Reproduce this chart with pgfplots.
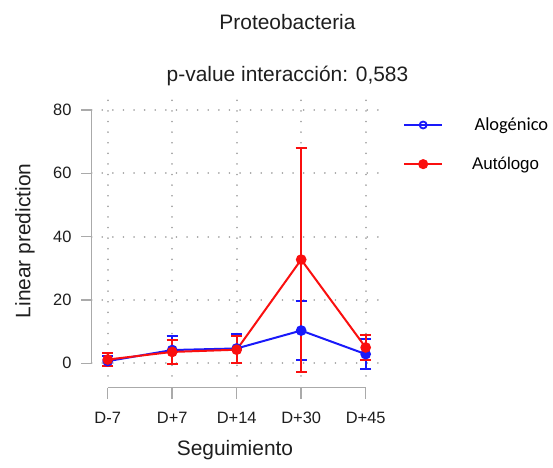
\documentclass[border=0pt]{standalone}
\usepackage{pgfplots}
\pgfplotsset{compat=1.18}
\usepackage{fontspec}
\setmainfont{Liberation Sans}
\newfontfamily\carlito{Carlito}
\definecolor{cblue}{RGB}{25,25,250}
\definecolor{cred}{RGB}{250,15,15}
\definecolor{axgray}{RGB}{170,170,170}
\definecolor{gridgray}{RGB}{165,165,165}
\definecolor{txt}{RGB}{30,30,30}
\begin{document}
\begin{tikzpicture}
\path[use as bounding box] (-91.6bp,-92bp) rectangle (461.4bp,376bp);
\begin{axis}[
  scale only axis, width=290.2bp, height=278.7bp,
  xmin=0.75, xmax=5.25, ymin=-4, ymax=84,
  clip=false,
  axis line style={draw=none}, tick style={draw=none},
  xtick={1,2,3,4,5}, xticklabels={D-7,D+7,D+14,D+30,D+45},
  ytick={0,20,40,60,80},
  grid=major,
  major grid style={draw=gridgray, line width=1.7bp, line cap=round, dash pattern=on 0.1bp off 10.5bp},
  /pgf/number format/assume math mode=true,
  ticklabel style={font=\fontsize{16.5}{18}\selectfont, text=txt},
  xticklabel style={anchor=north, inner sep=0pt, yshift=-35.7bp},
  yticklabel style={anchor=east, inner sep=0pt, xshift=-19.9bp},
  xlabel={Seguimiento},
  xlabel style={at={(axis description cs:0.494,-0.2835)}, anchor=base, font=\fontsize{21}{24}\selectfont, text=txt, inner sep=0pt},
  ylabel={Linear prediction},
  ylabel style={at={(axis description cs:-0.2295,0.485)}, anchor=center, font=\fontsize{21}{24}\selectfont, text=txt, inner sep=0pt},
  legend image code/.code={\draw[mark repeat=2,mark phase=2,#1] plot coordinates {(0bp,0bp) (19bp,0bp) (38bp,0bp)};},
  legend style={draw=none, fill=none, at={(axis description cs:1.073,0.8307)}, anchor=west, inner sep=0pt, nodes={inner sep=0pt}, column sep=29bp, row sep=25bp},
  legend cell align=left,
]
% custom axis lines
\draw[axgray, line width=1.5bp] (axis cs:0.75,0) -- (axis cs:0.75,80);
\draw[axgray, line width=1.5bp] (axis cs:0.75,0) -- ([xshift=-11bp]axis cs:0.75,0);
\draw[axgray, line width=1.5bp] (axis cs:0.75,20) -- ([xshift=-11bp]axis cs:0.75,20);
\draw[axgray, line width=1.5bp] (axis cs:0.75,40) -- ([xshift=-11bp]axis cs:0.75,40);
\draw[axgray, line width=1.5bp] (axis cs:0.75,60) -- ([xshift=-11bp]axis cs:0.75,60);
\draw[axgray, line width=1.5bp] (axis cs:0.75,80) -- ([xshift=-11bp]axis cs:0.75,80);
\draw[axgray, line width=1.5bp] ([yshift=-11.7bp]axis cs:1,-4) -- ([yshift=-11.7bp]axis cs:5,-4);
\draw[axgray, line width=1.5bp] ([yshift=-11.7bp]axis cs:1,-4) -- ([yshift=-22.7bp]axis cs:1,-4);
\draw[axgray, line width=1.5bp] ([yshift=-11.7bp]axis cs:2,-4) -- ([yshift=-22.7bp]axis cs:2,-4);
\draw[axgray, line width=1.5bp] ([yshift=-11.7bp]axis cs:3,-4) -- ([yshift=-22.7bp]axis cs:3,-4);
\draw[axgray, line width=1.5bp] ([yshift=-11.7bp]axis cs:4,-4) -- ([yshift=-22.7bp]axis cs:4,-4);
\draw[axgray, line width=1.5bp] ([yshift=-11.7bp]axis cs:5,-4) -- ([yshift=-22.7bp]axis cs:5,-4);

\addplot[forget plot, cblue, line width=2bp, mark=*, mark size=4.3bp,
  mark options={fill=cblue, draw=cblue},
  error bars/.cd, y dir=both, y explicit,
  error bar style={line width=2bp, cblue},
  error mark options={rotate=90, mark size=5.5bp, line width=2bp, cblue}]
  coordinates {(1,0.7) +- (0,1.5) (2,4.2) +- (0,4.4) (3,4.7) +- (0,4.5) (4,10.35) +- (0,9.35) (5,2.9) +- (0,4.8)};
\addplot[forget plot, cred, line width=2bp, mark=*, mark size=4.3bp,
  mark options={fill=cred, draw=cred},
  error bars/.cd, y dir=both, y explicit,
  error bar style={line width=2bp, cred},
  error mark options={rotate=90, mark size=5.5bp, line width=2bp, cred}]
  coordinates {(1,1.2) +- (0,2.1) (2,3.6) +- (0,3.9) (3,4.3) +- (0,4.3) (4,32.75) +- (0,35.35) (5,5.0) +- (0,4.1)};

\addlegendimage{cblue, line width=2bp, mark=o, mark size=3.5bp, mark options={line width=1.8bp}}
\addlegendentry{\hspace*{2.4bp}{\carlito\fontsize{18.5}{20}\selectfont Alogénico}}
\addlegendimage{cred, line width=2bp, mark=*, mark size=4bp, mark options={fill=cred}}
\addlegendentry{{\fontsize{17}{19}\selectfont Autólogo}}
\end{axis}
\node[anchor=base, font=\fontsize{21}{24}\selectfont, text=txt, inner sep=0pt] at (195.9bp,346bp) {Proteobacteria};
\node[anchor=base, font=\fontsize{21}{24}\selectfont, text=txt, inner sep=0pt] at (195.9bp,294.3bp) {p-value interacción: 0,583};
\end{tikzpicture}
\end{document}
